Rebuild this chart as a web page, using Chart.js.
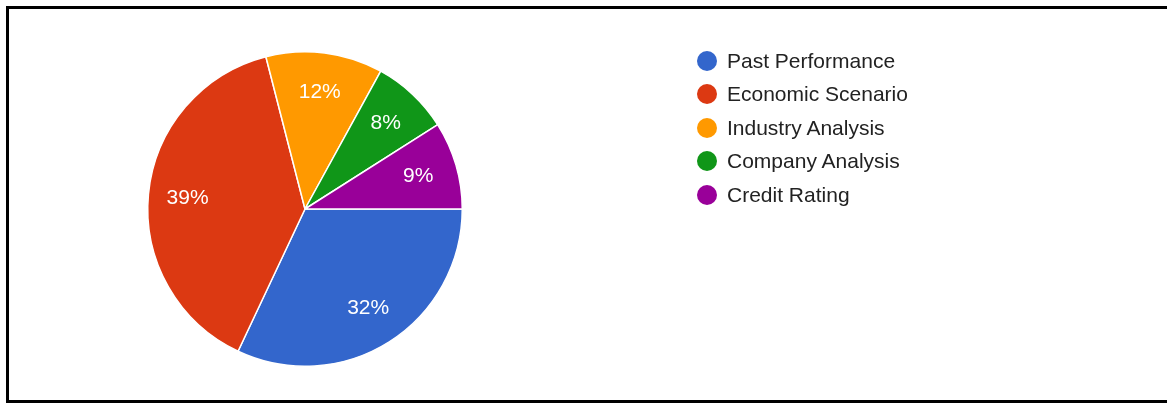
<!DOCTYPE html>
<html>
<head>
<meta charset="utf-8">
<title>Pie chart</title>
<script src="https://cdn.jsdelivr.net/npm/chart.js@4"></script>
<style>
    html, body {
        margin: 0;
        padding: 0;
        width: 1167px;
        height: 403px;
        overflow: hidden;
        background: #fff;
    }
    #frame {
        position: absolute;
        left: 6px;
        top: 6px;
        width: 1175px;
        height: 397px;
        box-sizing: border-box;
        border: 3px solid #000;
    }
    #pieChart {
        position: absolute;
        left: 0;
        top: 0;
    }
    #legend {
        position: absolute;
        left: 697px;
        top: 44px;
        margin: 0;
        padding: 0;
        list-style: none;
        font-family: "Liberation Sans", Arial, sans-serif;
        font-size: 21px;
        color: #222;
    }
    #legend li {
        display: flex;
        align-items: center;
        height: 33.5px;
    }
    #legend .dot {
        width: 20px;
        height: 20px;
        border-radius: 50%;
        margin-right: 10px;
    }
</style>
</head>
<body>
<div id="frame"></div>
<canvas id="pieChart" width="1167" height="403"></canvas>
<ul id="legend"></ul>

<script>
// Dados do gráfico
const categorias = ['Past Performance', 'Economic Scenario', 'Industry Analysis', 'Company Analysis', 'Credit Rating'];
const percentuais = [32, 39, 12, 8, 9];
const cores = ['#3366cc', '#dc3912', '#ff9900', '#109618', '#990099'];

// Legenda em HTML
const legend = document.getElementById('legend');
categorias.forEach((nome, i) => {
    const li = document.createElement('li');
    const dot = document.createElement('span');
    dot.className = 'dot';
    dot.style.background = cores[i];
    li.appendChild(dot);
    li.appendChild(document.createTextNode(nome));
    legend.appendChild(li);
});

// Plugin para escrever a porcentagem dentro de cada fatia
const rotulos = {
    id: 'rotulos',
    afterDatasetsDraw(chart) {
        const ctx = chart.ctx;
        const meta = chart.getDatasetMeta(0);
        const dados = chart.data.datasets[0].data;
        const total = dados.reduce((a, b) => a + b, 0);
        ctx.save();
        ctx.fillStyle = '#fff';
        ctx.font = '21px "Liberation Sans", Arial, sans-serif';
        ctx.textAlign = 'center';
        ctx.textBaseline = 'middle';
        meta.data.forEach((arc, i) => {
            const p = arc.getProps(['x', 'y', 'startAngle', 'endAngle', 'outerRadius'], true);
            const meio = (p.startAngle + p.endAngle) / 2;
            const r = p.outerRadius * 0.75;
            const texto = Math.round(dados[i] / total * 100) + '%';
            ctx.fillText(texto, p.x + Math.cos(meio) * r, p.y + Math.sin(meio) * r);
        });
        ctx.restore();
    }
};

const ctx = document.getElementById('pieChart').getContext('2d');
const pieChart = new Chart(ctx, {
    type: 'pie',
    data: {
        labels: categorias,
        datasets: [{
            data: percentuais,
            backgroundColor: cores,
            borderColor: '#fff',
            borderWidth: 1.5
        }]
    },
    options: {
        responsive: false,
        animation: false,
        rotation: 90, // começa às 3 horas
        layout: {
            padding: { left: 147, right: 704, top: 51, bottom: 36 }
        },
        plugins: {
            legend: { display: false },
            tooltip: { enabled: false }
        }
    },
    plugins: [rotulos]
});
</script>
</body>
</html>
